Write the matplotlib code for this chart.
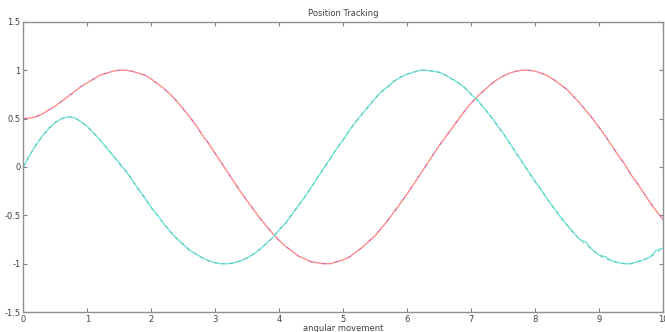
import numpy as np
import matplotlib
matplotlib.use('Agg')
import matplotlib.pyplot as plt

# sample positions along the angular axis (step 0.1, 0 .. 10)
x = [i / 10 for i in range(101)]

# red track (purple reference is drawn on top of it)
red_y = [0.50, 0.505, 0.52, 0.55, 0.59, 0.63, 0.68, 0.73, 0.78, 0.83,
         0.87, 0.91, 0.95, 0.97, 0.99, 1.00, 1.00, 0.99, 0.97, 0.95,
         0.91, 0.86, 0.81, 0.75, 0.68, 0.60, 0.52, 0.43, 0.33, 0.24,
         0.14, 0.04, -0.06, -0.16, -0.26, -0.35, -0.44, -0.53, -0.61, -0.69,
         -0.76, -0.82, -0.87, -0.92, -0.95, -0.98, -0.99, -1.00, -1.00, -0.98,
         -0.96, -0.93, -0.88, -0.83, -0.77, -0.71, -0.63, -0.55, -0.46, -0.37,
         -0.28, -0.18, -0.08, 0.02, 0.12, 0.22, 0.31, 0.40, 0.49, 0.58,
         0.66, 0.73, 0.79, 0.85, 0.90, 0.94, 0.97, 0.99, 1.00, 1.00,
         0.99, 0.97, 0.94, 0.90, 0.85, 0.80, 0.73, 0.66, 0.58, 0.50,
         0.41, 0.32, 0.22, 0.12, 0.03, -0.08, -0.17, -0.27, -0.37, -0.46,
         -0.54]

# green reference for the second track
green_y = [0.00, 0.12, 0.23, 0.32, 0.40, 0.46, 0.50, 0.52, 0.51, 0.47,
           0.42, 0.35, 0.28, 0.20, 0.12, 0.04, -0.04, -0.13, -0.23, -0.32,
           -0.42, -0.50, -0.59, -0.67, -0.74, -0.80, -0.86, -0.90, -0.94, -0.97,
           -0.99, -1.00, -1.00, -0.99, -0.97, -0.94, -0.90, -0.85, -0.79, -0.73,
           -0.65, -0.58, -0.49, -0.40, -0.31, -0.21, -0.11, -0.01, 0.09, 0.19,
           0.28, 0.38, 0.47, 0.55, 0.63, 0.71, 0.78, 0.83, 0.89, 0.93,
           0.96, 0.98, 1.00, 1.00, 0.99, 0.98, 0.95, 0.91, 0.87, 0.82,
           0.75, 0.69, 0.61, 0.53, 0.44, 0.35, 0.25, 0.15, 0.05, -0.05,
           -0.15, -0.24, -0.34, -0.43, -0.52, -0.60, -0.68, -0.75, -0.81, -0.86,
           -0.91, -0.95, -0.97, -0.99, -1.00, -1.00, -0.98, -0.96, -0.93, -0.89,
           -0.84]

# cyan measured track (small wobbles near the end)
cyan_y = [0.00, 0.12, 0.23, 0.32, 0.40, 0.46, 0.50, 0.52, 0.51, 0.47,
          0.42, 0.35, 0.28, 0.20, 0.12, 0.04, -0.04, -0.13, -0.23, -0.32,
          -0.42, -0.50, -0.59, -0.67, -0.74, -0.80, -0.86, -0.90, -0.94, -0.97,
          -0.99, -1.00, -1.00, -0.99, -0.97, -0.94, -0.90, -0.85, -0.79, -0.73,
          -0.65, -0.58, -0.49, -0.40, -0.31, -0.21, -0.11, -0.01, 0.09, 0.19,
          0.28, 0.38, 0.47, 0.55, 0.63, 0.71, 0.78, 0.83, 0.89, 0.93,
          0.96, 0.98, 1.00, 1.00, 0.99, 0.98, 0.95, 0.91, 0.87, 0.82,
          0.75, 0.69, 0.61, 0.53, 0.44, 0.35, 0.25, 0.15, 0.05, -0.05,
          -0.15, -0.24, -0.34, -0.43, -0.52, -0.60, -0.68, -0.75, -0.78, -0.86,
          -0.91, -0.93, -0.97, -0.99, -1.00, -1.00, -0.98, -0.96, -0.93, -0.86,
          -0.84]

xticks = [0, 1, 2, 3, 4, 5, 6, 7, 8, 9, 10]
yticks = [-1.5, -1, -0.5, 0, 0.5, 1, 1.5]
ytick_labels = ['-1.5', '-1', '-0.5', '0', '0.5', '1', '1.5']

fig = plt.figure(figsize=(6.65, 3.32), dpi=100)
ax = fig.add_axes([0.035, 0.06, 0.962, 0.874])

ax.plot(x, red_y, color='#ff8c8c', lw=1.0)
ax.plot(x, red_y, color='#8a4ac8', lw=0.8, ls=(0, (3, 9)), alpha=0.45)
ax.plot(x, cyan_y, color='#74e4e0', lw=1.0)
ax.plot(x, green_y, color='#3aa870', lw=0.8, ls=(0, (3, 4)), alpha=0.5)

ax.set_xlim(0, 10)
ax.set_ylim(-1.5, 1.5)
ax.set_xticks(xticks)
ax.set_yticks(yticks)
ax.set_yticklabels(ytick_labels)
ax.tick_params(direction='in', length=3, width=0.8, colors='#808080',
               labelcolor='#404040', labelsize=6, top=True, right=True, pad=2)
for s in ax.spines.values():
    s.set_color('#909090')
    s.set_linewidth(1.0)

ax.set_title('Position Tracking', fontsize=6, color='#404040', pad=4)
ax.set_xlabel('angular movement', fontsize=6, color='#404040', labelpad=0)

fig.savefig('out.png', dpi=100)
